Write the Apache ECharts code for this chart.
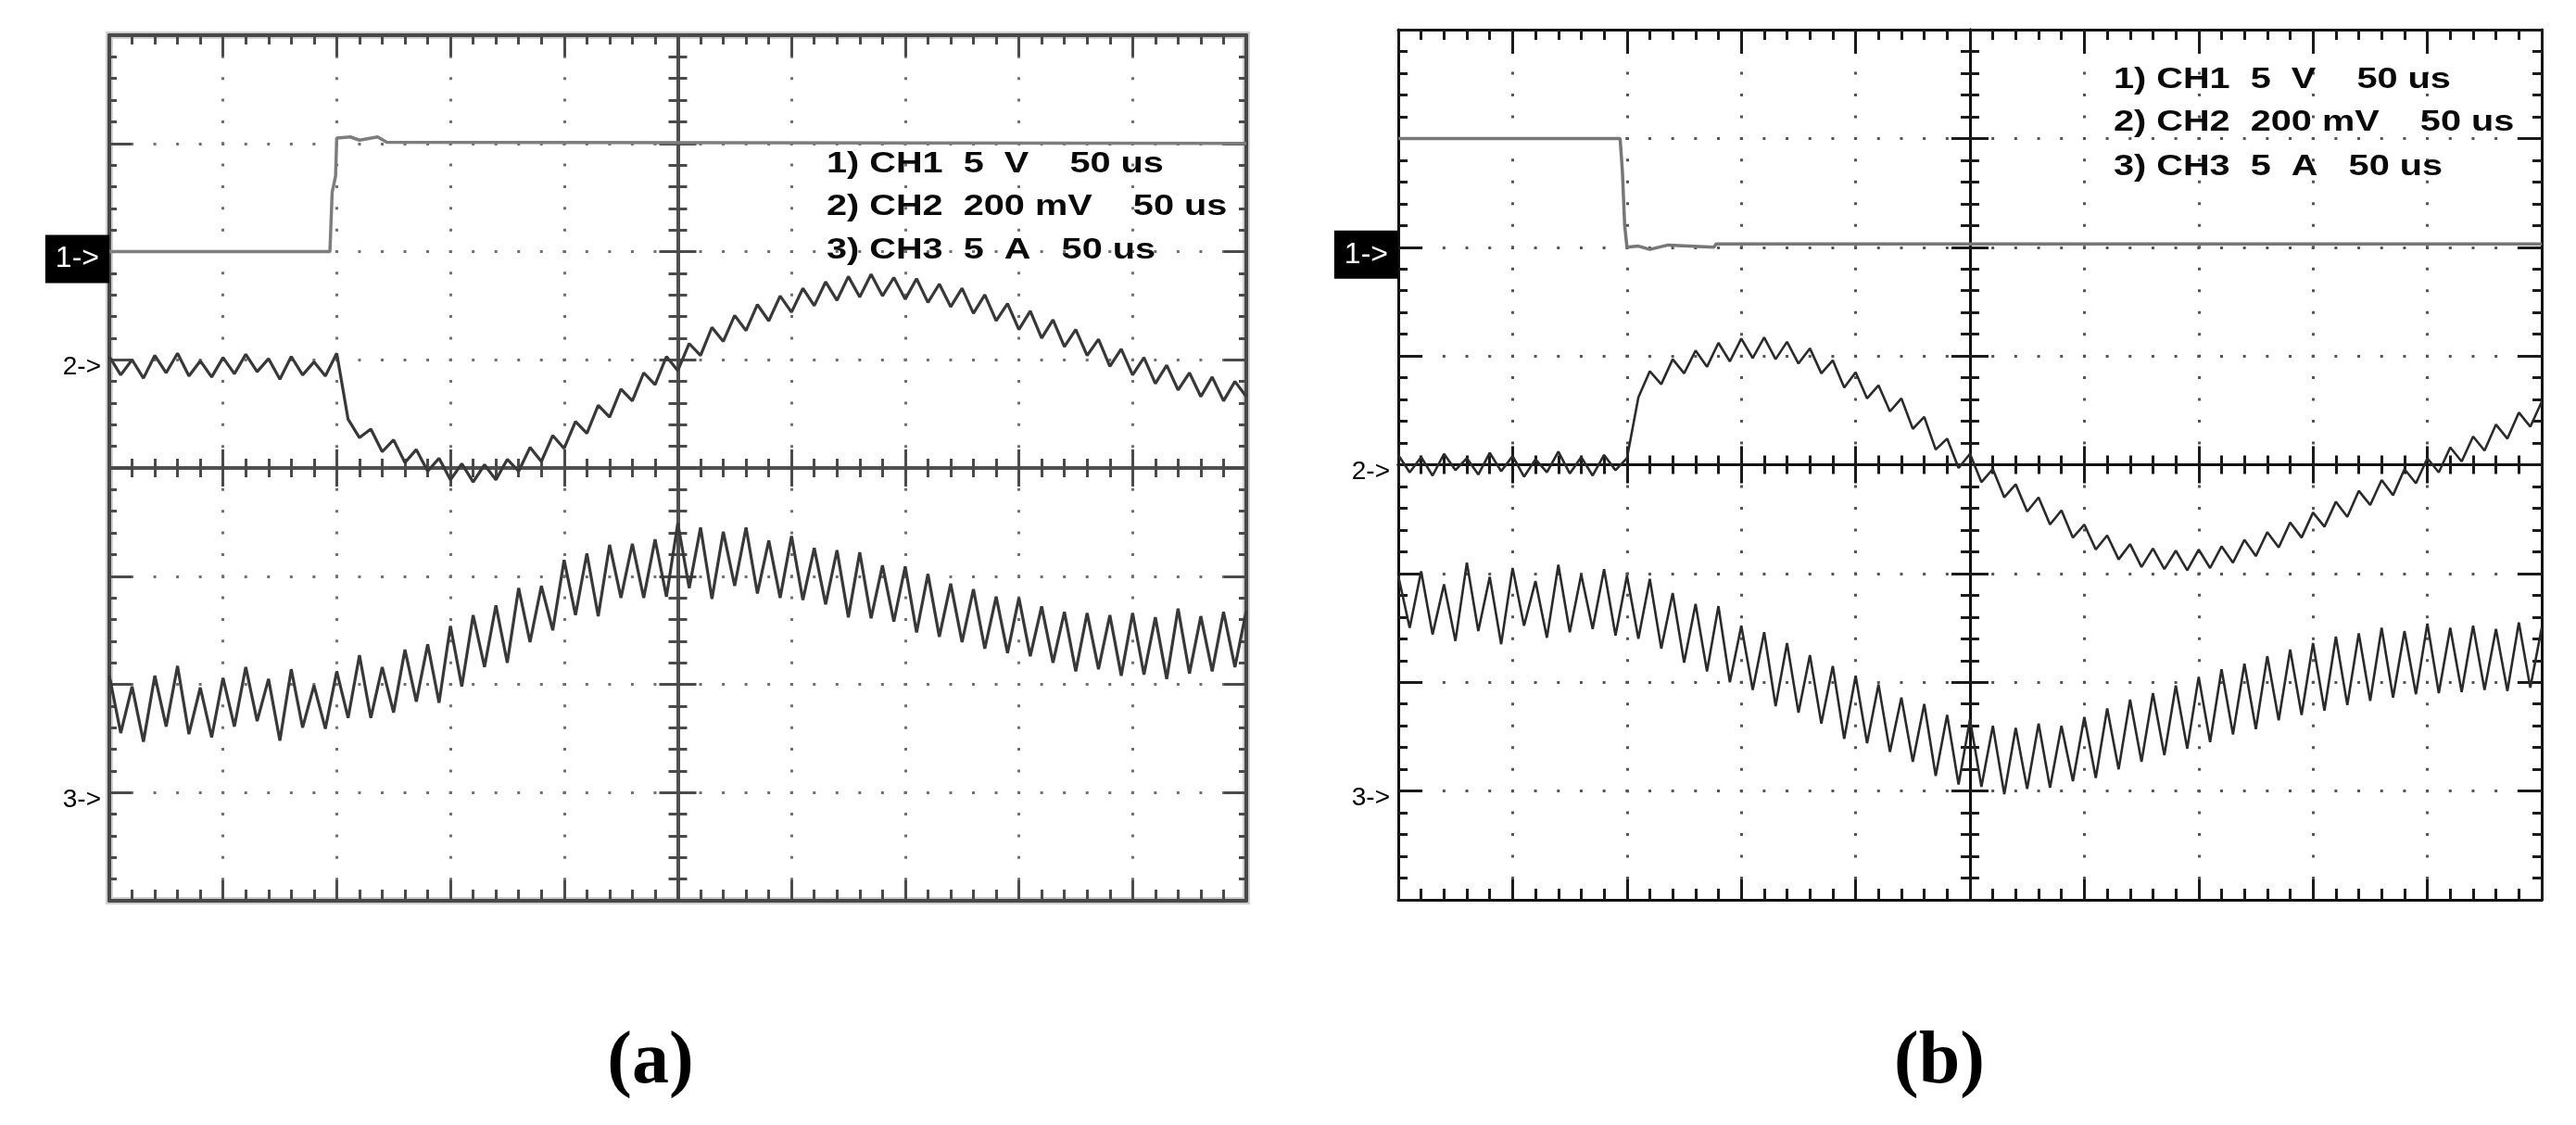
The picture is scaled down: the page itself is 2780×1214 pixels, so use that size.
<!DOCTYPE html>
<html><head><meta charset="utf-8">
<script src="https://cdn.jsdelivr.net/npm/echarts@6/dist/echarts.min.js"></script>
<style>html,body{margin:0;padding:0;background:#fff}#c{width:2780px;height:1214px}</style>
</head><body><div id="c"></div>
<script>
// ---------- DATA (time in microseconds, 50 us/div; levels in screen divisions 0..8) ----------
const sampleTimesUs = [0,5,10,15,20,25,30,35,40,45,50,55,60,65,70,75,80,85,90,95,100,105,110,115,120,125,130,135,140,145,150,155,160,165,170,175,180,185,190,195,200,205,210,215,220,225,230,235,240,245,250,255,260,265,270,275,280,285,290,295,300,305,310,315,320,325,330,335,340,345,350,355,360,365,370,375,380,385,390,395,400,405,410,415,420,425,430,435,440,445,450,455,460,465,470,475,480,485,490,495,500];

// Panel (a)
const ch1TimesA  = [0, 97, 98, 99.5, 100, 106, 110, 118, 122, 500];
const ch1LevelsA = [6.0, 6.0, 6.55, 6.7, 7.05, 7.06, 7.03, 7.06, 7.01, 7.0];
const ch2LevelsA = [5.03,4.86,5.00,4.83,5.04,4.88,5.06,4.85,4.99,4.84,5.02,
  4.87,5.05,4.89,5.01,4.82,5.03,4.86,4.98,4.85,5.06,
  4.45,4.28,4.36,4.15,4.26,4.05,4.17,3.97,4.09,3.89,
  4.04,3.87,4.03,3.89,4.08,3.97,4.19,4.06,4.30,4.18,
  4.43,4.32,4.58,4.47,4.73,4.62,4.88,4.77,5.03,4.90,
  5.15,5.04,5.30,5.17,5.41,5.27,5.51,5.36,5.59,5.44,
  5.66,5.50,5.72,5.55,5.77,5.58,5.79,5.59,5.76,5.56,
  5.75,5.53,5.70,5.49,5.66,5.43,5.60,5.36,5.52,5.28,
  5.45,5.20,5.37,5.12,5.28,5.04,5.19,4.94,5.10,4.86,
  5.02,4.78,4.95,4.72,4.88,4.66,4.84,4.62,4.80,4.66];
const ch3LevelsA = [2.08,1.55,1.98,1.47,2.08,1.61,2.17,1.54,1.97,1.51,2.06,
  1.61,2.16,1.66,2.05,1.48,2.14,1.60,1.99,1.59,2.12,
  1.69,2.27,1.69,2.16,1.74,2.32,1.84,2.37,1.83,2.54,
  1.98,2.64,2.16,2.73,2.20,2.89,2.39,2.91,2.50,3.15,
  2.64,3.21,2.63,3.29,2.80,3.30,2.80,3.34,2.81,3.49,
  2.89,3.45,2.79,3.41,2.91,3.45,2.84,3.33,2.80,3.37,
  2.78,3.26,2.74,3.24,2.62,3.22,2.61,3.10,2.58,3.09,
  2.48,3.02,2.44,2.93,2.39,2.88,2.33,2.81,2.29,2.80,
  2.26,2.72,2.20,2.67,2.12,2.66,2.14,2.64,2.08,2.66,
  2.09,2.62,2.05,2.70,2.10,2.63,2.12,2.67,2.16,2.68];

// Panel (b)
const ch1TimesB  = [0, 97, 98, 99, 100, 105, 110, 118, 138, 139, 500];
const ch1LevelsB = [7.0, 7.0, 6.7, 6.2, 6.0, 6.01, 5.98, 6.02, 6.0, 6.03, 6.03];
const ch2LevelsB = [4.09,3.93,4.07,3.90,4.10,3.95,4.06,3.91,4.11,3.94,4.08,
  3.89,4.05,3.93,4.12,3.92,4.07,3.90,4.09,3.95,4.06,
  4.62,4.86,4.74,4.97,4.84,5.05,4.90,5.12,4.95,5.16,
  4.98,5.17,4.97,5.13,4.93,5.07,4.84,4.96,4.71,4.85,
  4.61,4.73,4.49,4.61,4.33,4.44,4.14,4.24,3.97,4.10,
  3.84,3.96,3.70,3.82,3.57,3.70,3.45,3.58,3.33,3.45,
  3.22,3.35,3.13,3.27,3.06,3.23,3.04,3.21,3.03,3.22,
  3.05,3.25,3.10,3.31,3.16,3.38,3.24,3.47,3.33,3.56,
  3.43,3.66,3.52,3.76,3.63,3.86,3.72,3.96,3.83,4.06,
  3.93,4.16,4.03,4.26,4.13,4.37,4.24,4.48,4.35,4.58];
const ch3LevelsB = [2.98,2.50,3.02,2.44,2.90,2.38,3.10,2.47,2.97,2.35,3.05,
  2.52,2.93,2.41,3.08,2.46,2.99,2.49,3.04,2.43,2.98,
  2.40,2.95,2.31,2.82,2.18,2.72,2.10,2.70,2.00,2.52,
  1.93,2.46,1.78,2.36,1.72,2.25,1.62,2.15,1.48,2.06,
  1.44,1.98,1.36,1.86,1.27,1.80,1.14,1.70,1.06,1.66,
  1.04,1.60,0.97,1.58,1.02,1.62,1.03,1.60,1.09,1.68,
  1.12,1.76,1.20,1.84,1.27,1.90,1.33,1.97,1.39,2.05,
  1.45,2.12,1.52,2.17,1.57,2.24,1.65,2.30,1.70,2.36,
  1.74,2.42,1.79,2.45,1.83,2.50,1.86,2.47,1.89,2.54,
  1.90,2.50,1.91,2.52,1.93,2.49,1.92,2.55,1.95,2.50];

// Axis ranges / ticks
const timeMinUs = 0, timeMaxUs = 500, timePerDivUs = 50;
const divMin = 0, divMax = 8, divStep = 1;
const minorPerDiv = 5;

// Texts
const legendLines = ['1) CH1  5  V    50 us', '2) CH2  200 mV    50 us', '3) CH3  5  A   50 us'];
const markerTexts = ['1->', '2->', '3->'];
const markerLevelsA = [6, 5, 1];
const markerLevelsB = [6, 4, 1];
const panelLabels = ['(a)', '(b)'];

// ---------- STYLE / LAYOUT ----------
const panels = [
  { grid: {left: 118, top: 38, width: 1227, height: 934},
    frame: '#474747', frameW: 4, tick: '#4a4a4a', center: '#505050', centerW: 4, dot: '#707070', halo: true,
    tk: {bMaj: 22, bMin: 12, tMaj: 23, tMin: 10, sMaj: 24, sMin: 8, cMaj: 20, cMin: 10},
    trace: '#383838', traceW: 3.2, ch1Color: '#7d7d7d',
    markers: markerLevelsA, ch1T: ch1TimesA, ch1V: ch1LevelsA, ch2: ch2LevelsA, ch3: ch3LevelsA,
    legendX: 892, legendY: [177, 223, 270], labelX: 702 },
  { grid: {left: 1509, top: 32, width: 1234, height: 939},
    frame: '#111111', frameW: 3, tick: '#1a1a1a', center: '#111111', centerW: 3, dot: '#555555', halo: false,
    tk: {bMaj: 22, bMin: 12, tMaj: 26, tMin: 11, sMaj: 26, sMin: 10, cMaj: 20, cMin: 10},
    trace: '#2a2a2a', traceW: 2.6, ch1Color: '#777777',
    markers: markerLevelsB, ch1T: ch1TimesB, ch1V: ch1LevelsB, ch2: ch2LevelsB, ch3: ch3LevelsB,
    legendX: 2281, legendY: [86, 132, 180], labelX: 2093 }
];

const grids = [], xAxes = [], yAxes = [], series = [], graphics = [];

panels.forEach((p, g) => {
  const W = p.grid.width, H = p.grid.height;
  const pitchX = W / (10 * minorPerDiv);   // px between dots along horizontal lines
  const pitchY = H / (8 * minorPerDiv);    // px between dots along vertical lines
  grids.push(Object.assign({containLabel: false, outerBoundsMode: 'none',
    show: p.halo, borderColor: '#cfcfcf', borderWidth: 8, backgroundColor: 'transparent'}, p.grid));

  const xBase = {gridIndex: g, type: 'value', min: timeMinUs, max: timeMaxUs, interval: timePerDivUs,
    axisLabel: {show: false}, minorSplitLine: {show: false}, splitLine: {show: false}};
  const yBase = {gridIndex: g, type: 'value', min: divMin, max: divMax, interval: divStep,
    axisLabel: {show: false}, minorSplitLine: {show: false}, splitLine: {show: false}};
  const line = (c, w) => ({show: true, onZero: false, lineStyle: {color: c, width: w}});
  const tick = (inside, len) => ({show: true, inside: inside, length: len, lineStyle: {color: p.tick, width: 3}});
  const minor = (len) => ({show: true, splitNumber: minorPerDiv, length: len, lineStyle: {color: p.tick, width: 3}});

  // x axes: bottom frame (with dotted vertical grid), top frame, centre line (two tick directions)
  xAxes.push(Object.assign({}, xBase, {position: 'bottom', axisLine: line(p.frame, p.frameW),
    axisTick: tick(true, p.tk.bMaj), minorTick: minor(p.tk.bMin),
    splitLine: {show: true, lineStyle: {color: p.dot, width: 3, type: [3, pitchY - 3], dashOffset: 1.5}}}));
  xAxes.push(Object.assign({}, xBase, {position: 'top', axisLine: line(p.frame, p.frameW),
    axisTick: tick(true, p.tk.tMaj), minorTick: minor(p.tk.tMin)}));
  xAxes.push(Object.assign({}, xBase, {position: 'bottom', offset: -H / 2, axisLine: line(p.center, p.centerW),
    axisTick: tick(true, p.tk.cMaj), minorTick: minor(p.tk.cMin)}));
  xAxes.push(Object.assign({}, xBase, {position: 'bottom', offset: -H / 2, axisLine: line(p.center, p.centerW),
    axisTick: tick(false, p.tk.cMaj), minorTick: minor(p.tk.cMin)}));

  // y axes: left frame (with dotted horizontal grid + channel markers), right frame, centre line
  yAxes.push(Object.assign({}, yBase, {position: 'left', axisLine: line(p.frame, p.frameW),
    axisTick: tick(true, p.tk.sMaj), minorTick: minor(p.tk.sMin),
    splitLine: {show: true, lineStyle: {color: p.dot, width: 3, type: [3, pitchX - 3], dashOffset: 1.5}},
    axisLabel: {show: true, margin: 0, padding: [16, 0, 0, 0],
      formatter: function (v) {
        const k = p.markers.indexOf(v);
        if (k < 0) return '';
        return k === 0 ? '{box|' + markerTexts[0] + '}' : '{txt|' + markerTexts[k] + '}';
      },
      rich: {
        box: {backgroundColor: '#000', color: '#fff', fontSize: 32, fontFamily: 'Liberation Sans',
              lineHeight: 33, padding: [10, 11, 10, 11]},
        txt: {color: '#000', fontSize: 28, fontFamily: 'Liberation Sans', padding: [0, 9, 0, 0]}
      }}}));
  yAxes.push(Object.assign({}, yBase, {position: 'right', axisLine: line(p.frame, p.frameW),
    axisTick: tick(true, p.tk.sMaj), minorTick: minor(p.tk.sMin)}));
  yAxes.push(Object.assign({}, yBase, {position: 'left', offset: -W / 2, axisLine: line(p.center, p.centerW),
    axisTick: tick(true, p.tk.cMaj), minorTick: minor(p.tk.cMin)}));
  yAxes.push(Object.assign({}, yBase, {position: 'left', offset: -W / 2, axisLine: line(p.center, p.centerW),
    axisTick: tick(false, p.tk.cMaj), minorTick: minor(p.tk.cMin)}));

  const base = {type: 'line', xAxisIndex: g * 4, yAxisIndex: g * 4, showSymbol: false, symbol: 'none',
    animation: false, silent: true, z: 5};
  series.push(Object.assign({}, base, {name: 'CH1', data: p.ch1T.map((t, i) => [t, p.ch1V[i]]),
    lineStyle: {color: p.ch1Color, width: 3.5}}));
  series.push(Object.assign({}, base, {name: 'CH2', data: sampleTimesUs.map((t, i) => [t, p.ch2[i]]),
    lineStyle: {color: p.trace, width: p.traceW}}));
  series.push(Object.assign({}, base, {name: 'CH3', data: sampleTimesUs.map((t, i) => [t, p.ch3[i]]),
    lineStyle: {color: p.trace, width: p.traceW}}));

  legendLines.forEach((txt, i) => {
    graphics.push({type: 'text', x: p.legendX, y: p.legendY[i], scaleX: 1.28, z: 10,
      style: {text: txt, fontSize: 31, fontWeight: 'bold', fontFamily: 'Liberation Sans',
              fill: '#0a0a0a', align: 'left', verticalAlign: 'middle'}});
  });
  graphics.push({type: 'text', x: p.labelX, y: 1147, z: 10,
    style: {text: panelLabels[g], fontSize: 80, fontWeight: 'bold', fontFamily: 'Liberation Serif',
            fill: '#000', align: 'center', verticalAlign: 'middle'}});
});

const chart = echarts.init(document.getElementById('c'), null, {renderer: 'canvas', width: 2780, height: 1214});
chart.setOption({
  backgroundColor: '#ffffff',
  animation: false,
  grid: grids,
  xAxis: xAxes,
  yAxis: yAxes,
  series: series,
  graphic: graphics
});
</script>
</body></html>
